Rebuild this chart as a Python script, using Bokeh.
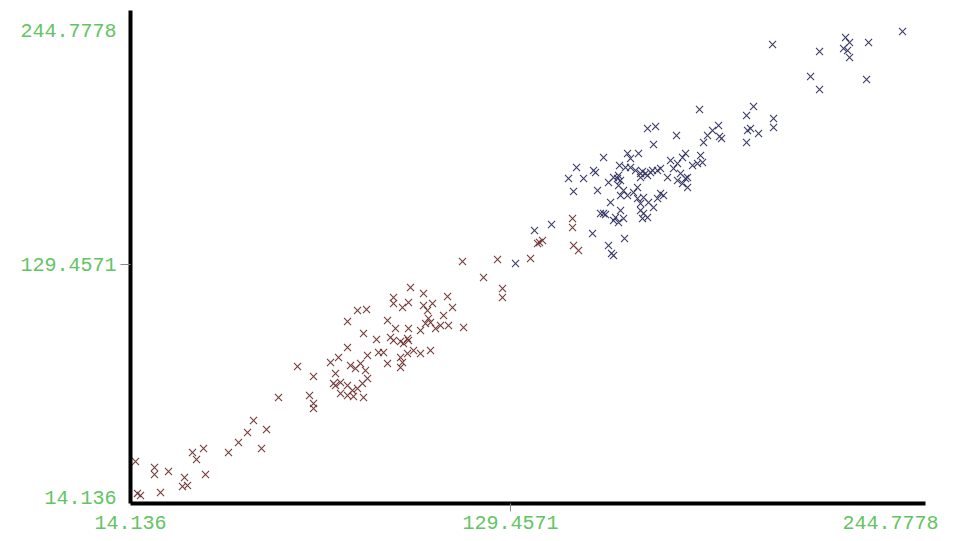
from bokeh.plotting import figure
from bokeh.models import FixedTicker, Range1d
from bokeh.embed import file_html
from bokeh.resources import INLINE

tick_values = [14.136, 129.4571, 244.7778]
tick_labels = ["14.136", "129.4571", "244.7778"]
tick_marks = [129.4571]

red_x = [15.66, 21.42, 21.42, 25.67, 17.18, 16.26, 23.25, 30.53, 29.92, 31.44,
         36.90, 32.96, 34.17, 36.30, 43.88, 46.92, 49.65, 51.47, 55.42, 53.90,
         59.06, 64.82, 68.47, 69.68, 69.68, 69.68, 74.84, 77.27, 80.00, 80.00,
         83.03, 85.77, 84.86, 88.80, 82.43, 80.91, 83.95, 85.46, 86.07, 84.55,
         83.03, 81.52, 80.00, 77.88, 76.36, 77.88, 80.00, 84.86, 81.82, 76.36,
         75.75, 92.14, 94.57, 93.96, 93.96, 93.96, 89.41, 92.14, 86.07, 99.12,
         103.07, 98.51, 96.69, 110.35, 111.87, 103.07, 105.80, 104.28, 109.14, 104.58,
         103.67, 105.19, 108.23, 110.65, 106.71, 102.16, 115.21, 98.51, 98.21, 96.09,
         93.05, 98.51, 97.00, 90.93, 96.09, 98.21, 100.03, 102.16, 105.19, 96.09,
         96.69, 114.90, 121.28, 125.52, 127.04, 127.04, 135.54, 138.27, 139.18, 137.66,
         148.29, 148.29, 148.59, 150.11]
red_y = [31.92, 28.96, 25.50, 26.98, 15.13, 16.12, 16.61, 24.02, 19.57, 20.07,
         25.50, 36.37, 32.91, 38.34, 36.37, 41.30, 46.24, 52.17, 47.73, 38.34,
         63.53, 78.84, 64.52, 60.57, 58.10, 73.90, 80.82, 83.29, 88.23, 101.07,
         106.50, 106.99, 95.14, 92.18, 77.85, 79.33, 80.32, 76.87, 72.91, 70.44,
         67.98, 66.99, 69.46, 70.94, 69.46, 65.51, 64.52, 63.53, 64.02, 75.38,
         70.44, 101.56, 97.61, 91.68, 112.92, 109.96, 85.76, 80.32, 84.27, 117.86,
         114.90, 110.45, 107.98, 113.41, 107.98, 108.97, 109.96, 106.50, 104.03, 102.55,
         100.08, 100.57, 99.09, 99.09, 97.61, 96.62, 98.10, 97.61, 92.67, 91.19,
         93.16, 91.68, 90.20, 85.76, 83.29, 85.26, 86.74, 85.26, 86.74, 78.35,
         80.82, 130.70, 122.80, 131.69, 117.37, 112.92, 132.18, 140.08, 141.07, 139.59,
         151.94, 147.49, 138.60, 136.13]

blue_x = [130.99, 136.75, 141.91, 154.36, 156.79, 159.21, 160.73, 160.12, 164.07, 149.50,
          151.63, 147.07, 148.59, 154.66, 155.27, 157.70, 155.87, 159.21, 160.73, 161.94,
          164.98, 168.32, 165.89, 171.05, 173.48, 179.85, 172.87, 162.55, 164.37, 165.89,
          167.41, 168.93, 170.44, 171.96, 174.08, 175.00, 168.93, 171.05, 169.53, 172.57,
          162.25, 162.86, 162.25, 163.77, 164.98, 162.86, 159.82, 162.86, 157.70, 158.30,
          161.34, 163.77, 162.25, 160.73, 166.80, 168.01, 169.84, 168.93, 171.35, 168.93,
          169.84, 171.05, 169.53, 172.87, 174.08, 175.00, 175.91, 178.03, 180.15, 181.67,
          182.58, 181.07, 182.58, 183.19, 180.15, 177.12, 178.94, 168.01, 187.14, 186.22,
          187.74, 184.71, 183.19, 181.67, 186.83, 192.60, 190.78, 189.26, 188.05, 193.51,
          192.90, 201.10, 203.22, 209.29, 209.29, 201.40, 202.31, 204.74, 201.10, 208.99,
          220.52, 223.25, 223.25, 231.14, 232.36, 230.54, 231.75, 232.36, 238.12, 237.52,
          248.44]
blue_y = [129.71, 146.01, 148.97, 144.53, 154.41, 138.60, 133.66, 134.65, 142.06, 177.13,
          171.69, 171.69, 165.27, 175.65, 174.66, 182.07, 165.77, 169.72, 172.19, 171.69,
          184.04, 184.04, 181.57, 196.39, 197.38, 192.93, 188.49, 178.11, 177.13, 177.13,
          175.65, 174.16, 174.16, 174.66, 175.65, 176.63, 172.19, 173.18, 175.15, 175.65,
          173.18, 170.71, 168.24, 165.77, 163.30, 163.30, 159.84, 155.89, 154.41, 153.91,
          152.43, 151.94, 149.96, 150.95, 164.78, 161.81, 162.31, 159.35, 159.84, 155.89,
          154.41, 152.43, 151.94, 157.37, 161.81, 164.29, 163.30, 180.58, 179.10, 182.07,
          184.04, 174.16, 171.69, 167.25, 170.71, 172.19, 176.63, 167.25, 183.05, 179.10,
          179.60, 178.11, 172.19, 169.22, 205.77, 197.87, 195.40, 192.93, 189.47, 191.45,
          192.44, 202.81, 207.25, 201.33, 196.88, 195.40, 196.39, 193.92, 189.47, 237.88,
          222.07, 234.42, 215.65, 241.33, 238.86, 235.90, 234.91, 231.46, 238.86, 220.59,
          244.30]

p = figure(width=945, height=538, output_backend="svg", toolbar_location=None,
           x_range=Range1d(14.136, 255.4), y_range=Range1d(11.17, 254.67),
           min_border_left=130, min_border_right=20, min_border_top=10,
           min_border_bottom=35)
p.outline_line_color = None
p.grid.visible = False
p.background_fill_color = "white"
p.border_fill_color = "white"

overrides = dict(zip(tick_values, tick_labels))
for ax in (p.xaxis[0], p.yaxis[0]):
    ax.ticker = FixedTicker(ticks=tick_values, minor_ticks=tick_marks)
    ax.major_label_overrides = overrides
    ax.major_tick_line_color = None
    ax.minor_tick_in = 0
    ax.minor_tick_line_color = "#888888"
    ax.minor_tick_line_width = 1
    ax.axis_line_width = 4
    ax.axis_line_color = "black"
    ax.major_label_text_font = "Liberation Mono"
    ax.major_label_text_font_size = "20px"
    ax.major_label_text_color = "#62c462"

p.xaxis[0].major_tick_out = 8
p.xaxis[0].minor_tick_out = 8
p.xaxis[0].major_label_standoff = 4
p.yaxis[0].major_tick_out = 10
p.yaxis[0].minor_tick_out = 10
p.yaxis[0].major_label_standoff = 4

p.scatter(red_x, red_y, marker="x", size=10, line_color="#763a3a", line_width=1.1)
p.scatter(blue_x, blue_y, marker="x", size=10, line_color="#3a3a6a", line_width=1.1)

open("out.html", "w").write(file_html(p, INLINE))
